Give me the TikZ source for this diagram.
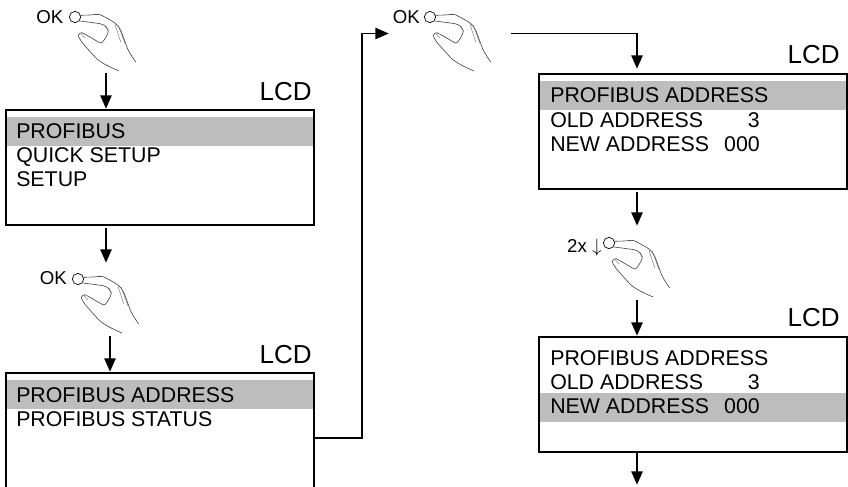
\documentclass[tikz,border=0pt]{standalone}
\usepackage{fontspec}
\setmainfont{Liberation Sans}
\usepackage{xcolor}
\usetikzlibrary{arrows.meta}
\definecolor{lcdgray}{RGB}{189,189,189}
\tikzset{
  lcdbox/.style={draw,line width=1.5pt,inner sep=0pt,outer sep=0pt,anchor=north west,minimum width=231pt,minimum height=86pt},
  lcdtitle/.style={anchor=base east,inner sep=0pt,font=\fontsize{19.5}{20}\selectfont},
  lcdline/.style={anchor=base west,inner sep=0pt,font=\fontsize{16}{18}\selectfont},
  lcdvalue/.style={anchor=base east,inner sep=0pt,font=\fontsize{16}{18}\selectfont},
  bar/.style={fill=lcdgray},
  keyname/.style={anchor=base east,inner sep=0pt,font=\fontsize{14}{16}\selectfont},
  ring/.style={draw,circle,line width=0.5pt,inner sep=0pt,minimum size=8.5pt},
  flow/.style={line width=1.25pt,-{Triangle[length=10pt,width=8.5pt]},shorten >=1pt},
  hand/.pic={
    \draw[line width=0.45pt,black!75] plot[smooth,tension=0.35] coordinates {(5,-1.7) (15,-2) (25,-2.3) (40,6) (45.7,13.3) (53.3,33.3) (60.7,45)};
    \draw[line width=0.45pt,black!75] plot[smooth,tension=0.35] coordinates {(5,4) (25,6.7) (30,9) (33.3,14) (31,20) (26,26) (15,20) (6.7,15.7) (3.3,18.3) (6.7,25) (21.7,41.7) (31.7,48.3) (44,54)};
    \draw[line width=0.3pt,black!60] (40,7.3) -- (45.7,25) (43.3,8.3) -- (50,26.7) (31,9) -- (33,14) (6,16.5) -- (10,21);
  }
}
\begin{document}
\begin{tikzpicture}[x=0.75pt,y=-0.75pt]
\useasboundingbox (0,0) rectangle (848,486);
\clip (0,0) rectangle (848,486);
% first column
\node[ring] (ring1) at (75,17) {};
\pic at (ring1.center) {hand};
\node[keyname] (ok1) at (63.5,23) {OK};
\coordinate (from1) at (106,73);
\node[lcdbox] (lcd1) at (6,110) {};
\fill[bar] (7,117) rectangle (313,146);
\node[lcdtitle] (title1) at (312,100) {LCD};
\node[lcdline] (row11) at (16,138) {PROFIBUS};
\node[lcdline] (row12) at (16,162) {QUICK SETUP};
\node[lcdline] (row13) at (16,186) {SETUP};
\draw[flow] (from1) -- (from1 |- lcd1.north);
\coordinate (from2) at (106,228);
\coordinate (to2) at (106,264);
\draw[flow] (from2) -- (to2);
\node[ring] (ring2) at (78,279) {};
\pic at (ring2.center) {hand};
\node[keyname] (ok2) at (67,284) {OK};
\coordinate (from3) at (110,336);
\node[lcdbox,minimum height=97.5pt] (lcd2) at (6,373) {};
\fill[bar] (7,380) rectangle (313,409);
\node[lcdtitle] (title2) at (312,363) {LCD};
\node[lcdline] (row21) at (16,402) {PROFIBUS ADDRESS};
\node[lcdline] (row22) at (16,426) {PROFIBUS STATUS};
\draw[flow] (from3) -- (from3 |- lcd2.north);
% across to the second column
\coordinate (bend) at (362,33.5);
\coordinate (to3) at (390,33.5);
\draw[flow] (lcd2.east) -| (bend) -- (to3);
\node[ring] (ring3) at (430,17) {};
\pic at (ring3.center) {hand};
\node[keyname] (ok3) at (420,23) {OK};
\coordinate (from4) at (511,33.5);
\coordinate (top3) at (637,70);
\draw[flow] (from4) -| (top3);
\node[lcdbox] (lcd3) at (539,74) {};
\fill[bar] (540,81) rectangle (846,110);
\node[lcdtitle] (title3) at (840,63) {LCD};
\node[lcdline] (row31) at (550,102) {PROFIBUS ADDRESS};
\node[lcdline] (row32) at (550,127) {OLD ADDRESS};
\node[lcdvalue] (val32) at (760,127) {3};
\node[lcdline] (row33) at (550,151) {NEW ADDRESS};
\node[lcdvalue] (val33) at (760,151) {000};
\coordinate (from5) at (637,192);
\coordinate (to5) at (637,227);
\draw[flow] (from5) -- (to5);
\node[ring] (ring4) at (609,243) {};
\pic at (ring4.center) {hand};
\node[keyname] (key4) at (602,252) {2x $\downarrow$};
\coordinate (from6) at (637,300);
\node[lcdbox] (lcd4) at (539,337) {};
\fill[bar] (540,393) rectangle (846,422);
\node[lcdtitle] (title4) at (840,326) {LCD};
\node[lcdline] (row41) at (550,365) {PROFIBUS ADDRESS};
\node[lcdline] (row42) at (550,389) {OLD ADDRESS};
\node[lcdvalue] (val42) at (760,389) {3};
\node[lcdline] (row43) at (550,413) {NEW ADDRESS};
\node[lcdvalue] (val43) at (760,413) {000};
\draw[flow] (from6) -- (from6 |- lcd4.north);
\coordinate (end) at (637,486);
\draw[flow] (end |- lcd4.south) -- (end);
\end{tikzpicture}
\end{document}
